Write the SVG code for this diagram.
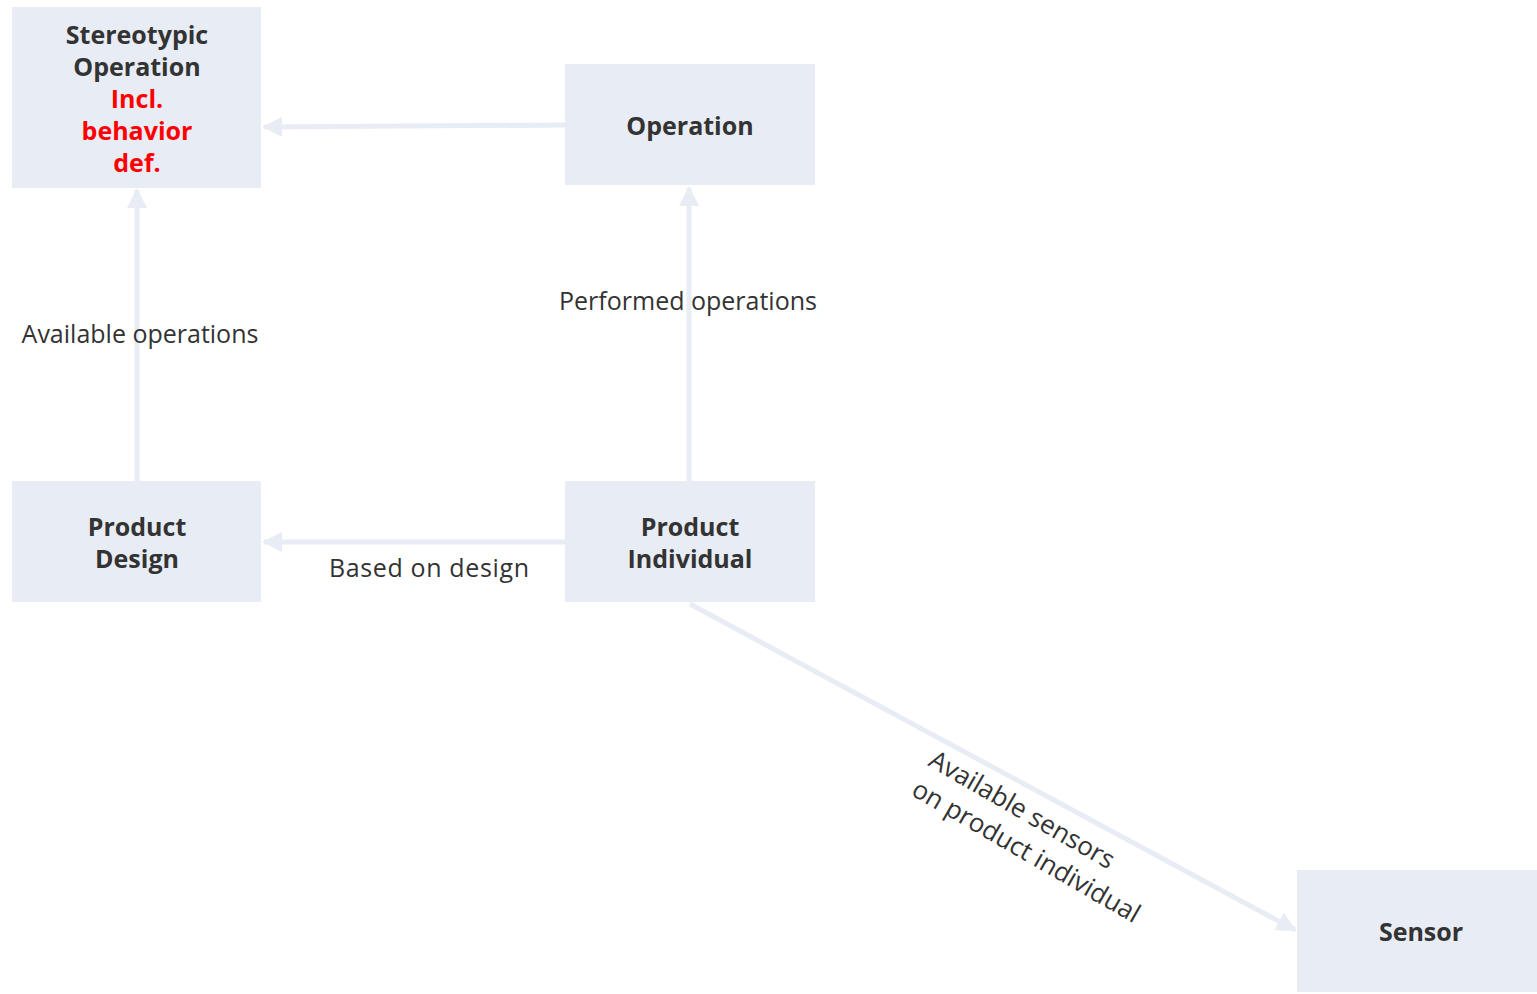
<svg xmlns="http://www.w3.org/2000/svg" width="1537" height="994" viewBox="0 0 1537 994">
  <style>
    .node { fill: #e8ecf5; }
    .title { font-family: "Open Sans", "Noto Sans", sans-serif; font-weight: bold; font-size: 25px; fill: #333333; text-anchor: middle; dominant-baseline: central; }
    .red { fill: #ff0000; }
    .edge { stroke: #e8ecf5; stroke-width: 5; fill: none; }
    .label { font-family: "Open Sans", "Noto Sans", sans-serif; font-size: 25px; fill: #333333; text-anchor: middle; dominant-baseline: central; }
    .label-start { font-family: "Open Sans", "Noto Sans", sans-serif; font-size: 26px; fill: #333333; }
  </style>
  <defs>
    <marker id="arrow" viewBox="0 0 10 10" refX="9" refY="5" markerWidth="4" markerHeight="4" orient="auto" markerUnits="strokeWidth">
      <path d="M0,0 L10,5 L0,10 Z" fill="#e8ecf5"/>
    </marker>
  </defs>
  <rect width="1537" height="994" fill="#ffffff"/>

  <g id="connectors">
    <path class="edge" d="M565,125 L264,127" marker-end="url(#arrow)"/>
    <path class="edge" d="M137,481 L137,190" marker-end="url(#arrow)"/>
    <path class="edge" d="M689,481 L689,188" marker-end="url(#arrow)"/>
    <path class="edge" d="M565,542 L264,542" marker-end="url(#arrow)"/>
    <path class="edge" d="M690,604 L1295,930" marker-end="url(#arrow)"/>
    <text class="label" x="140" y="333">Available operations</text>
    <text class="label" x="688" y="300">Performed operations</text>
    <text class="label" x="429" y="567" textLength="200">Based on design</text>
    <g transform="translate(927,765) rotate(30)">
      <text class="label-start" x="0" y="0">Available sensors</text>
      <text class="label-start" x="0" y="34">on product individual</text>
    </g>
  </g>

  <g id="stereotypic-operation">
    <rect class="node" x="12" y="7" width="249" height="181"/>
    <text class="title" x="137" y="34">Stereotypic</text>
    <text class="title" x="137" y="66">Operation</text>
    <text class="title red" x="137" y="98">Incl.</text>
    <text class="title red" x="137" y="130">behavior</text>
    <text class="title red" x="137" y="162">def.</text>
  </g>

  <g id="operation">
    <rect class="node" x="565" y="64" width="250" height="121"/>
    <text class="title" x="690" y="125">Operation</text>
  </g>

  <g id="product-design">
    <rect class="node" x="12" y="481" width="249" height="121"/>
    <text class="title" x="137" y="526">Product</text>
    <text class="title" x="137" y="558">Design</text>
  </g>

  <g id="product-individual">
    <rect class="node" x="565" y="481" width="250" height="121"/>
    <text class="title" x="690" y="526">Product</text>
    <text class="title" x="690" y="558">Individual</text>
  </g>

  <g id="sensor">
    <rect class="node" x="1297" y="870" width="240" height="122"/>
    <text class="title" x="1421" y="931">Sensor</text>
  </g>
</svg>
